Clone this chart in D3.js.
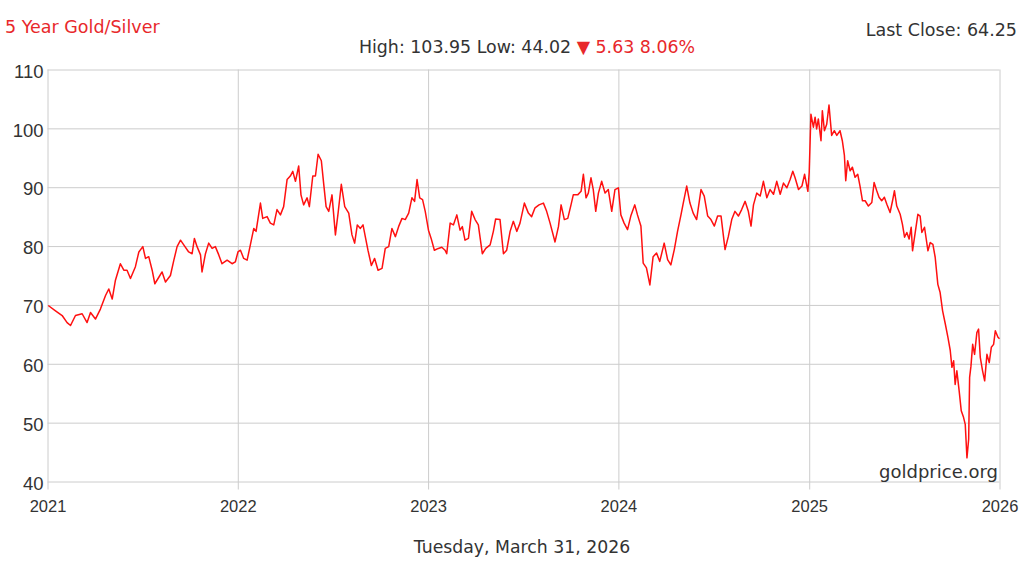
<!DOCTYPE html>
<html>
<head>
<meta charset="utf-8">
<script src="https://cdn.jsdelivr.net/npm/d3@7"></script>
<style>
  body { margin: 0; background: #fff; }
  svg { font-family: "DejaVu Sans", Verdana, sans-serif; }
  .grid line { stroke: #cccccc; stroke-width: 1; }
  .grid path { display: none; }
</style>
</head>
<body>
<div id="chart"></div>
<script>
// ratio values, [fraction of year, gold/silver ratio]
const RATIO_2021 = [[0.004,69.9],[0.042,69.0],[0.077,68.2],[0.103,67.0],[0.121,66.5],[0.147,68.2],[0.182,68.5],[0.208,67.0],[0.226,68.7],[0.252,67.6],[0.278,69.3],[0.305,71.6],[0.322,72.7],[0.340,71.0],[0.357,74.2],[0.383,77.0],[0.401,75.9],[0.418,75.9],[0.436,74.5],[0.462,76.5],[0.480,79.0],[0.501,79.9],[0.515,77.9],[0.532,78.2],[0.550,75.9],[0.564,73.6],[0.585,74.7],[0.602,75.6],[0.620,73.9],[0.646,75.0],[0.664,77.6],[0.681,79.9],[0.699,81.0],[0.716,80.2],[0.742,79.0],[0.760,78.7],[0.772,81.3],[0.786,79.9],[0.804,78.5],[0.812,75.6],[0.830,78.7],[0.847,80.5],[0.865,79.6],[0.882,79.9],[0.900,78.5],[0.917,77.0],[0.944,77.6],[0.970,77.0],[0.987,77.3]];
const RATIO_2022 = [[0.001,79.0],[0.014,79.3],[0.031,77.9],[0.049,77.6],[0.066,80.2],[0.084,83.0],[0.096,82.5],[0.119,87.3],[0.131,84.7],[0.154,85.0],[0.171,83.9],[0.189,83.6],[0.206,86.2],[0.224,85.3],[0.241,86.7],[0.259,91.3],[0.276,91.9],[0.289,92.7],[0.303,91.0],[0.320,93.6],[0.332,88.7],[0.346,87.0],[0.364,88.2],[0.376,86.7],[0.394,91.9],[0.408,91.9],[0.422,95.6],[0.439,94.5],[0.451,90.7],[0.464,86.7],[0.478,85.9],[0.495,88.7],[0.513,81.9],[0.527,85.6],[0.544,90.5],[0.562,86.7],[0.583,85.6],[0.600,81.9],[0.614,80.5],[0.628,83.6],[0.644,83.0],[0.658,83.6],[0.670,81.6],[0.684,79.3],[0.702,76.7],[0.719,77.9],[0.737,75.9],[0.758,76.2],[0.775,79.6],[0.793,79.9],[0.810,83.0],[0.828,81.6],[0.845,83.3],[0.863,84.7],[0.880,84.5],[0.898,85.6],[0.915,88.2],[0.929,87.6],[0.942,91.3],[0.956,88.2],[0.971,87.9],[0.985,85.9]];
const RATIO_2023 = [[0.002,82.7],[0.016,81.3],[0.033,79.3],[0.054,79.6],[0.072,79.8],[0.089,79.3],[0.098,78.7],[0.116,83.9],[0.133,83.6],[0.151,85.3],[0.168,82.7],[0.180,83.3],[0.194,81.0],[0.212,81.3],[0.229,85.9],[0.247,84.5],[0.264,83.6],[0.285,78.7],[0.303,79.6],[0.326,80.2],[0.343,82.5],[0.355,84.6],[0.378,84.5],[0.396,78.7],[0.413,79.3],[0.431,82.5],[0.448,84.2],[0.466,82.5],[0.483,83.9],[0.506,87.3],[0.527,85.6],[0.544,85.0],[0.562,86.5],[0.583,87.0],[0.606,87.3],[0.623,85.9],[0.641,83.9],[0.667,80.7],[0.685,83.3],[0.699,87.0],[0.716,84.5],[0.734,84.7],[0.751,87.0],[0.763,88.7],[0.786,88.7],[0.804,89.3],[0.816,92.2],[0.830,88.2],[0.842,89.0],[0.856,91.6],[0.868,89.6],[0.881,85.9],[0.895,89.0],[0.912,91.0],[0.930,89.0],[0.947,89.6],[0.965,85.9],[0.982,89.6]];
const RATIO_2024 = [[0.000,89.9],[0.013,85.3],[0.030,83.9],[0.048,82.8],[0.065,85.1],[0.086,87.0],[0.100,85.3],[0.118,83.4],[0.130,77.1],[0.147,76.3],[0.165,73.4],[0.182,78.2],[0.200,78.8],[0.217,77.4],[0.240,80.5],[0.258,77.7],[0.275,76.8],[0.293,79.4],[0.310,82.5],[0.328,85.3],[0.340,87.3],[0.358,90.2],[0.375,87.3],[0.392,85.6],[0.410,84.5],[0.433,89.6],[0.450,88.5],[0.468,85.1],[0.485,84.5],[0.503,83.4],[0.520,85.1],[0.538,85.1],[0.559,79.4],[0.576,81.6],[0.594,84.5],[0.611,85.9],[0.629,85.1],[0.646,86.2],[0.664,87.6],[0.681,85.9],[0.695,83.4],[0.708,87.0],[0.725,89.0],[0.743,88.5],[0.760,91.0],[0.778,88.2],[0.795,89.6],[0.813,88.8],[0.830,91.0],[0.848,88.8],[0.865,90.7],[0.883,89.9],[0.900,91.3],[0.914,92.7],[0.926,91.6],[0.944,89.6],[0.962,90.2],[0.976,92.2],[0.993,89.3]];
const RATIO_2025 = [[0.000,92.5],[0.009,102.4],[0.022,100.2],[0.031,101.9],[0.039,99.9],[0.048,101.6],[0.062,97.9],[0.069,103.0],[0.080,99.6],[0.092,100.7],[0.104,103.95],[0.118,98.8],[0.132,99.6],[0.145,98.8],[0.162,99.6],[0.174,97.9],[0.185,95.4],[0.192,91.1],[0.202,94.5],[0.215,92.8],[0.227,93.4],[0.241,91.7],[0.255,92.2],[0.267,90.2],[0.280,87.7],[0.294,87.7],[0.311,86.8],[0.329,87.4],[0.341,90.8],[0.355,89.4],[0.367,88.3],[0.381,87.7],[0.395,88.3],[0.408,87.1],[0.425,85.7],[0.438,87.7],[0.448,89.4],[0.460,86.8],[0.478,85.4],[0.490,83.7],[0.501,81.5],[0.513,82.3],[0.525,81.2],[0.536,83.2],[0.543,79.2],[0.557,82.3],[0.571,85.4],[0.583,85.1],[0.592,82.3],[0.606,83.2],[0.624,79.2],[0.636,80.6],[0.650,80.3],[0.662,78.1],[0.676,73.5],[0.688,72.1],[0.701,69.0],[0.715,66.8],[0.729,64.5],[0.741,62.3],[0.750,59.4],[0.759,60.5],[0.767,56.5],[0.776,58.8],[0.788,55.4],[0.799,52.0],[0.811,50.9],[0.820,49.7],[0.829,44.02],[0.838,47.2],[0.843,57.7],[0.850,59.6],[0.859,63.3],[0.869,61.6],[0.881,65.3],[0.890,65.9],[0.899,61.1],[0.911,58.8],[0.922,57.1],[0.934,61.6],[0.946,60.2],[0.957,62.8],[0.969,63.3],[0.978,65.6],[0.992,64.5],[1.000,64.25]];

const YEARS = [2021, 2022, 2023, 2024, 2025];
const SERIES = [RATIO_2021, RATIO_2022, RATIO_2023, RATIO_2024, RATIO_2025];
const Y_TICKS = [40, 50, 60, 70, 80, 90, 100, 110];
const X_TICKS = [2021, 2022, 2023, 2024, 2025, 2026];

const TITLE = "5 Year Gold/Silver";
const LAST_CLOSE = "Last Close: 64.25";
const STATS = "High: 103.95 Low: 44.02 ";
const CHANGE = "\u25BC 5.63 8.06%";
const DATE_LABEL = "Tuesday, March 31, 2026";
const SOURCE = "goldprice.org";

// frame
const FRAME_WIDTH = 1024;
const FRAME_HEIGHT = 576;
const PLOT = {left: 47.5, right: 999.5, top: 69.5, bottom: 481.5};
const RED = "#e8282b";
const TEXT = "#333333";

const svg = d3.select("#chart")
  .append("svg")
    .attr("width", FRAME_WIDTH)
    .attr("height", FRAME_HEIGHT);

// decimal year -> Date
function toDate(year, frac) {
  const d0 = new Date(year, 0, 1), d1 = new Date(year + 1, 0, 1);
  return new Date(+d0 + frac * (d1 - d0));
}

const data = [];
SERIES.forEach((s, i) => s.forEach((p) => data.push({date: toDate(YEARS[i], p[0]), value: p[1]})));

const x = d3.scaleTime()
  .domain([new Date(2021, 0, 1), new Date(2026, 0, 1)])
  .range([PLOT.left, PLOT.right]);

const y = d3.scaleLinear()
  .domain([40, 110])
  .range([PLOT.bottom, PLOT.top]);

// horizontal grid + y labels
const yAxis = svg.append("g")
  .attr("class", "grid")
  .attr("transform", "translate(" + PLOT.left + ",0)")
  .call(d3.axisLeft(y).tickValues(Y_TICKS).tickSize(-(PLOT.right - PLOT.left)).tickPadding(4));
yAxis.selectAll("text")
  .attr("fill", TEXT)
  .attr("font-size", 18.5)
  .attr("dy", "0.42em");

// vertical grid + x labels, ticks hang below the plot
const xAxis = svg.append("g")
  .attr("class", "grid")
  .attr("transform", "translate(0," + PLOT.bottom + ")")
  .call(d3.axisBottom(x).tickValues(X_TICKS.map((v) => new Date(v, 0, 1))).tickFormat(d3.timeFormat("%Y")));
xAxis.selectAll("line")
  .attr("y1", 8)
  .attr("y2", -(PLOT.bottom - PLOT.top));
xAxis.selectAll("text")
  .attr("fill", TEXT)
  .attr("font-size", 16.5)
  .attr("y", 30.5)
  .attr("dy", 0);

// the ratio line
svg.append("path")
  .datum(data)
  .attr("fill", "none")
  .attr("stroke", "#ff1010")
  .attr("stroke-width", 1.5)
  .attr("stroke-linejoin", "round")
  .attr("d", d3.line()
    .x((d) => x(d.date))
    .y((d) => y(d.value)));

// texts
svg.append("text")
  .attr("x", 5).attr("y", 33)
  .attr("fill", RED).attr("font-size", 17.5)
  .text(TITLE);

svg.append("text")
  .attr("x", 1017).attr("y", 36)
  .attr("text-anchor", "end")
  .attr("fill", TEXT).attr("font-size", 17.5)
  .text(LAST_CLOSE);

const stats = svg.append("text")
  .attr("x", 527).attr("y", 53)
  .attr("text-anchor", "middle")
  .attr("font-size", 17.4);
stats.append("tspan").attr("fill", TEXT).text(STATS);
stats.append("tspan").attr("fill", RED).text(CHANGE);

svg.append("text")
  .attr("x", 998).attr("y", 478)
  .attr("text-anchor", "end")
  .attr("fill", TEXT).attr("font-size", 18)
  .text(SOURCE);

svg.append("text")
  .attr("x", 522).attr("y", 553)
  .attr("text-anchor", "middle")
  .attr("fill", TEXT).attr("font-size", 17.3)
  .text(DATE_LABEL);
</script>
</body>
</html>
